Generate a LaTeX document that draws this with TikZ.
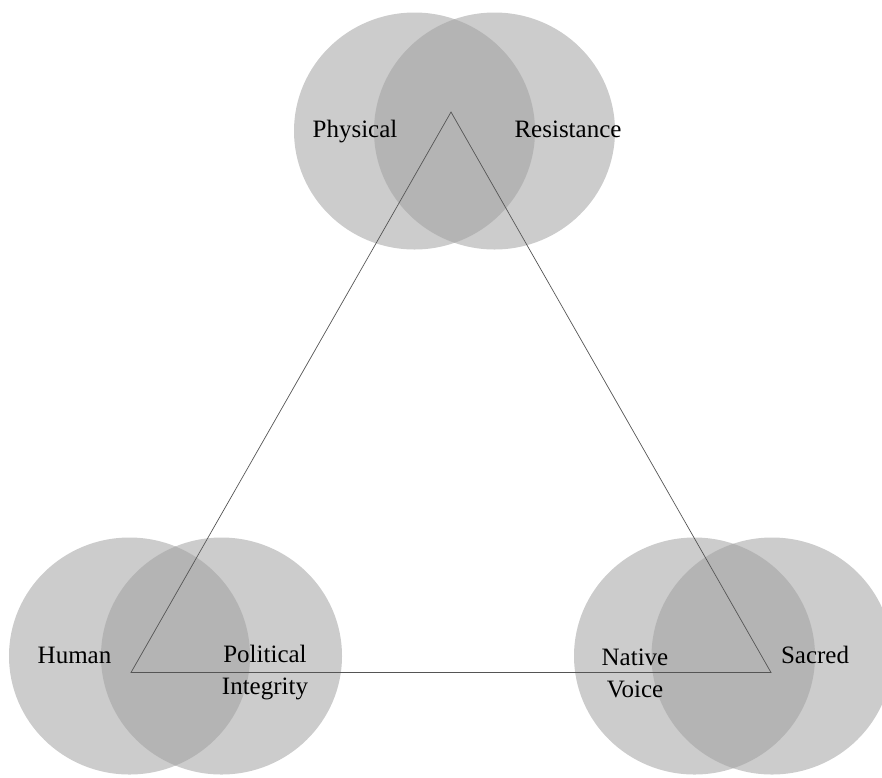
\documentclass[tikz,border=0pt]{standalone}
\usepackage{fontspec}
\setmainfont{Liberation Serif}
\begin{document}
\begin{tikzpicture}[x=1pt,y=-1pt,
  lbl/.style={font=\fontsize{25}{32}\selectfont, inner sep=0pt, align=center, text=black},
  blob/.style={fill=circgray},
  edge/.style={draw=linegray, line width=0.7pt}]
\definecolor{circgray}{HTML}{CCCCCC}
\definecolor{overgray}{HTML}{B4B4B4}
\definecolor{linegray}{HTML}{555555}
\useasboundingbox (0,0) rectangle (882,777);
\clip (0,0) rectangle (882,777);
% circle centres
\coordinate (t1) at (414.5,131);
\coordinate (t2) at (494.5,131);
\coordinate (l1) at (129.5,656);
\coordinate (l2) at (221.5,656);
\coordinate (r1) at (694.5,656);
\coordinate (r2) at (772,656);
\foreach \c in {t1,t2,l1,l2,r1,r2}{
  \fill[blob] (\c) ellipse [x radius=120.5pt, y radius=118.5pt];
}
\foreach \a/\b in {t1/t2,l1/l2,r1/r2}{
  \begin{scope}
    \clip (\a) ellipse [x radius=120.5pt, y radius=118.5pt];
    \fill[overgray] (\b) ellipse [x radius=120.5pt, y radius=118.5pt];
  \end{scope}
}
% triangle
\coordinate (A) at (451,112);
\coordinate (B) at (131,672.5);
\coordinate (C) at (771,672.5);
\draw[edge] (A) -- (B) -- (C) -- cycle;
% labels
\node[lbl, anchor=base] (physical) at (355,137) {Physical};
\node[lbl, anchor=base] (resistance) at (568,137) {Resistance};
\node[lbl, anchor=base] (human) at (74.5,663) {Human};
\node[lbl] (political) at (265,673) {Political\\Integrity};
\node[lbl] (native) at (635,673) {Native\\Voice};
\node[lbl, anchor=base] (sacred) at (815,663) {Sacred};
\end{tikzpicture}
\end{document}
